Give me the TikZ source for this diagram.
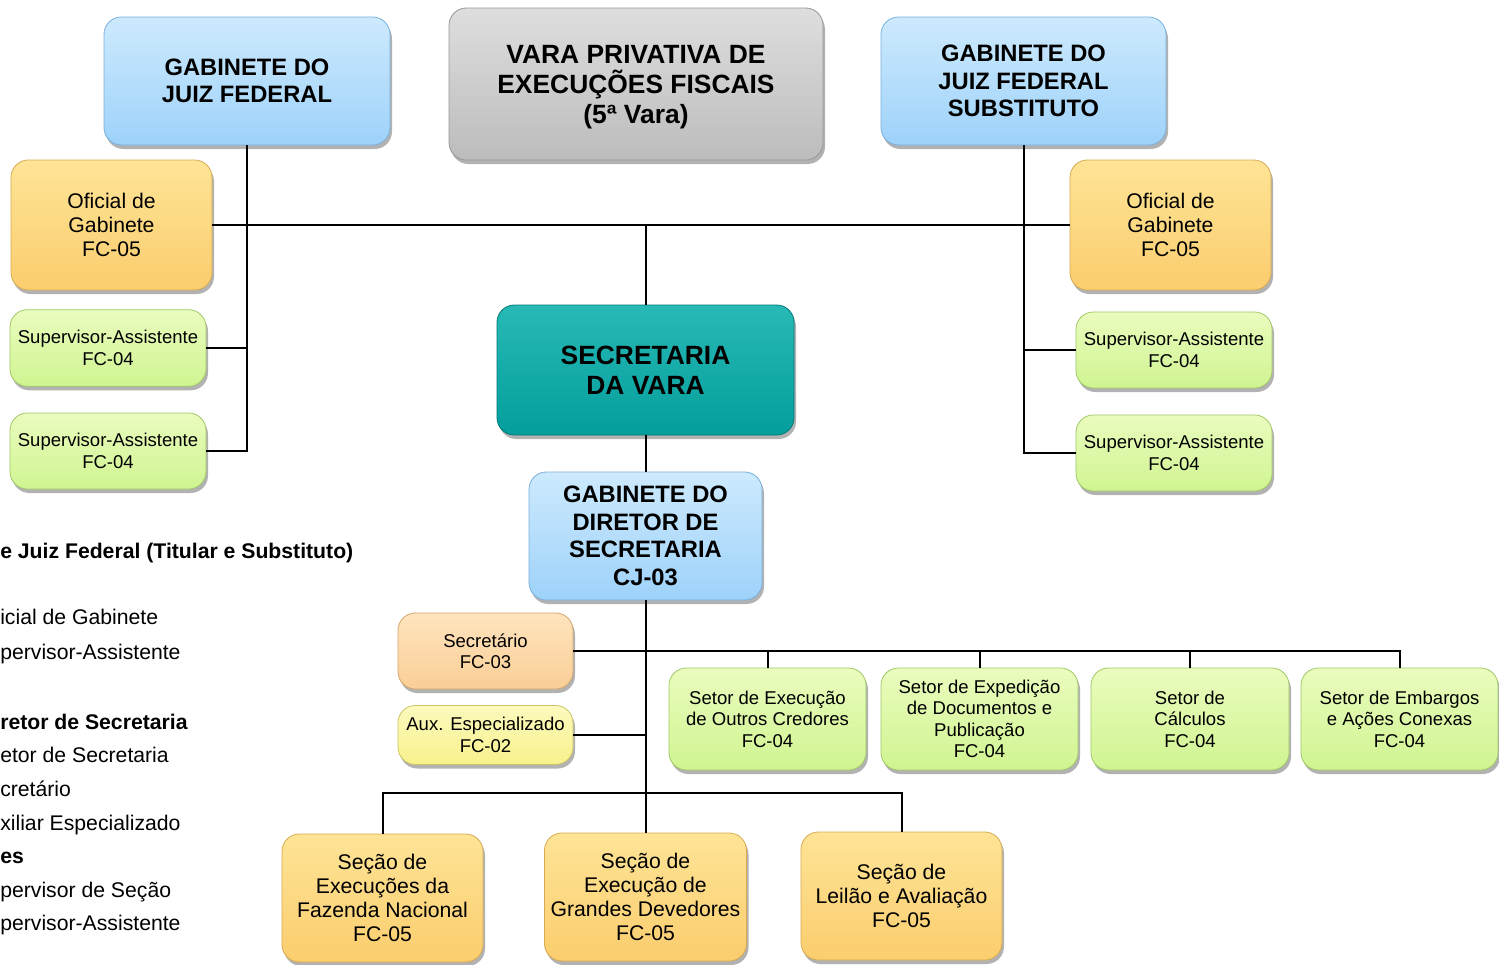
\documentclass[tikz,border=0pt]{standalone}
\usepackage{fontspec}
\setmainfont{Liberation Sans}
\usetikzlibrary{shadows}
\definecolor{blueT}{RGB}{205,234,253}
\definecolor{blueB}{RGB}{158,210,250}
\definecolor{blueD}{RGB}{120,175,220}
\definecolor{grayT}{RGB}{222,222,222}
\definecolor{grayB}{RGB}{188,188,188}
\definecolor{grayD}{RGB}{150,150,150}
\definecolor{tealT}{RGB}{40,185,182}
\definecolor{tealB}{RGB}{4,158,156}
\definecolor{tealD}{RGB}{0,120,118}
\definecolor{orT}{RGB}{254,228,150}
\definecolor{orB}{RGB}{251,205,110}
\definecolor{orD}{RGB}{215,170,80}
\definecolor{grT}{RGB}{234,252,190}
\definecolor{grB}{RGB}{208,244,145}
\definecolor{grD}{RGB}{160,200,100}
\definecolor{peT}{RGB}{254,228,190}
\definecolor{peB}{RGB}{250,206,150}
\definecolor{peD}{RGB}{210,165,110}
\definecolor{yeT}{RGB}{252,250,190}
\definecolor{yeB}{RGB}{248,241,140}
\definecolor{yeD}{RGB}{205,195,100}
\newcommand\fsmall{\fontsize{13.9}{16.1}\selectfont}
\newcommand\fmed{\fontsize{15.9}{18}\selectfont}
\newcommand\fhead{\bfseries\fontsize{17.8}{20.6}\selectfont}
\newcommand\fbig{\bfseries\fontsize{19.8}{22.5}\selectfont}
\tikzset{
  box/.style={rounded corners=13pt, inner sep=1pt, align=center, line width=0.6pt,
    drop shadow={shadow xshift=1.5pt, shadow yshift=-3pt, opacity=0.3, fill=black}},
  bluebox/.style={box, top color=blueT, bottom color=blueB, draw=blueD},
  graybox/.style={box, top color=grayT, bottom color=grayB, draw=grayD},
  tealbox/.style={box, top color=tealT, bottom color=tealB, draw=tealD},
  orbox/.style={box, top color=orT, bottom color=orB, draw=orD},
  grbox/.style={box, top color=grT, bottom color=grB, draw=grD},
  pebox/.style={box, top color=peT, bottom color=peB, draw=peD},
  yebox/.style={box, top color=yeT, bottom color=yeB, draw=yeD},
  conn/.style={line width=1.5pt, black},
  legend/.style={anchor=base west, inner sep=0pt, font=\fmed},
  legendb/.style={legend, font=\fmed\bfseries}
}
\begin{document}
\begin{tikzpicture}[x=0.75pt,y=-0.75pt]
\useasboundingbox (0,0) rectangle (1499,964);

% top level
\node[bluebox, font=\fhead, minimum width=214.5pt, minimum height=96pt] (gjf) at (247,81) {GABINETE DO\\JUIZ FEDERAL};
\node[graybox, font=\fbig, minimum width=280.5pt, minimum height=114pt] (vara) at (636,84) {\rule{0pt}{18.7pt}VARA PRIVATIVA DE\\EXECUÇÕES FISCAIS\\(5ª Vara)};
\node[bluebox, font=\fhead, minimum width=213.75pt, minimum height=96pt] (gjfs) at (1023.5,81) {GABINETE DO\\JUIZ FEDERAL\\SUBSTITUTO};

% gabinete staff
\node[orbox, font=\fmed, minimum width=150.75pt, minimum height=97.5pt] (ofl) at (111.5,225) {Oficial de\\Gabinete\\FC-05};
\node[orbox, font=\fmed, minimum width=150.75pt, minimum height=97.5pt] (ofr) at (1170.5,225) {Oficial de\\Gabinete\\FC-05};
\node[grbox, font=\fsmall, minimum width=147pt, minimum height=57.5pt] (sal1) at (108,348) {Supervisor-Assistente\\FC-04};
\node[grbox, font=\fsmall, minimum width=147pt, minimum height=57pt] (sal2) at (108,451) {Supervisor-Assistente\\FC-04};
\node[grbox, font=\fsmall, minimum width=147pt, minimum height=57pt] (sar1) at (1174,350) {Supervisor-Assistente\\FC-04};
\node[grbox, font=\fsmall, minimum width=147pt, minimum height=57pt] (sar2) at (1174,453) {Supervisor-Assistente\\FC-04};

% secretaria
\node[tealbox, font=\fbig, minimum width=222.75pt, minimum height=97.5pt] (sec) at (645.5,370) {SECRETARIA\\DA VARA};
\node[bluebox, font=\fhead, minimum width=174.75pt, minimum height=96pt] (dir) at (645.5,536) {GABINETE DO\\DIRETOR DE\\SECRETARIA\\CJ-03};

\node[pebox, font=\fsmall, minimum width=131.25pt, minimum height=57pt] (secr) at (485.5,651) {Secretário\\FC-03};
\node[yebox, font=\fsmall, minimum width=131.25pt, minimum height=44.25pt] (aux) at (485.5,735) {Aux. Especializado\\FC-02};

\node[grbox, font=\fsmall, minimum width=147.75pt, minimum height=76.5pt] (set1) at (767.5,719) {Setor de Execução\\de Outros Credores\\FC-04};
\node[grbox, font=\fsmall, minimum width=147.75pt, minimum height=76.5pt] (set2) at (979.5,719) {Setor de Expedição\\de Documentos e\\Publicação\\FC-04};
\node[grbox, font=\fsmall, minimum width=148.5pt, minimum height=76.5pt] (set3) at (1190,719) {Setor de\\Cálculos\\FC-04};
\node[grbox, font=\fsmall, minimum width=147.75pt, minimum height=76.5pt] (set4) at (1399.5,719) {Setor de Embargos\\e Ações Conexas\\FC-04};

\node[orbox, font=\fmed, minimum width=150.75pt, minimum height=96pt] (sc1) at (382.5,898) {Seção de\\Execuções da\\Fazenda Nacional\\FC-05};
\node[orbox, font=\fmed, minimum width=151.5pt, minimum height=96pt] (sc2) at (645.5,897) {Seção de\\Execução de\\Grandes Devedores\\FC-05};
\node[orbox, font=\fmed, minimum width=150.75pt, minimum height=96pt] (sc3) at (901.5,896) {Seção de\\Leilão e Avaliação\\FC-05};

% connectors
\draw[conn] (gjf.south) |- (sal2.east);
\draw[conn] (sal1.east) -- (sal1.east -| gjf.south);
\draw[conn] (ofl.east) -- (ofr.west);
\draw[conn] (sec.north) -- (sec.north |- ofl.east);
\draw[conn] (gjfs.south) |- (sar2.west);
\draw[conn] (sar1.west) -- (sar1.west -| gjfs.south);
\draw[conn] (sec.south) -- (dir.north);
\draw[conn] (dir.south) -- (sc2.north);
\draw[conn] (secr.east) -| (set4.north);
\draw[conn] (set1.north) -- (set1.north |- secr.east);
\draw[conn] (set2.north) -- (set2.north |- secr.east);
\draw[conn] (set3.north) -- (set3.north |- secr.east);
\draw[conn] (aux.east) -- (aux.east -| dir.south);
\coordinate (bus) at (645.5,793);
\draw[conn] (sc1.north) |- (bus) -| (sc3.north);

% legend (cut at the left edge)
\node[legendb] (l1) at (0,558.5) {e Juiz Federal (Titular e Substituto)};
\node[legend] (l2) at (0,624.5) {icial de Gabinete};
\node[legend] (l3) at (0,659.5) {pervisor-Assistente};
\node[legendb] (l4) at (0,729.5) {retor de Secretaria};
\node[legend] (l5) at (0,762.5) {etor de Secretaria};
\node[legend] (l6) at (0,796.5) {cretário};
\node[legend] (l7) at (0,830.5) {xiliar Especializado};
\node[legendb] (l8) at (0,863.5) {es};
\node[legend] (l9) at (0,897.5) {pervisor de Seção};
\node[legend] (l10) at (0,930.5) {pervisor-Assistente};
\end{tikzpicture}
\end{document}
